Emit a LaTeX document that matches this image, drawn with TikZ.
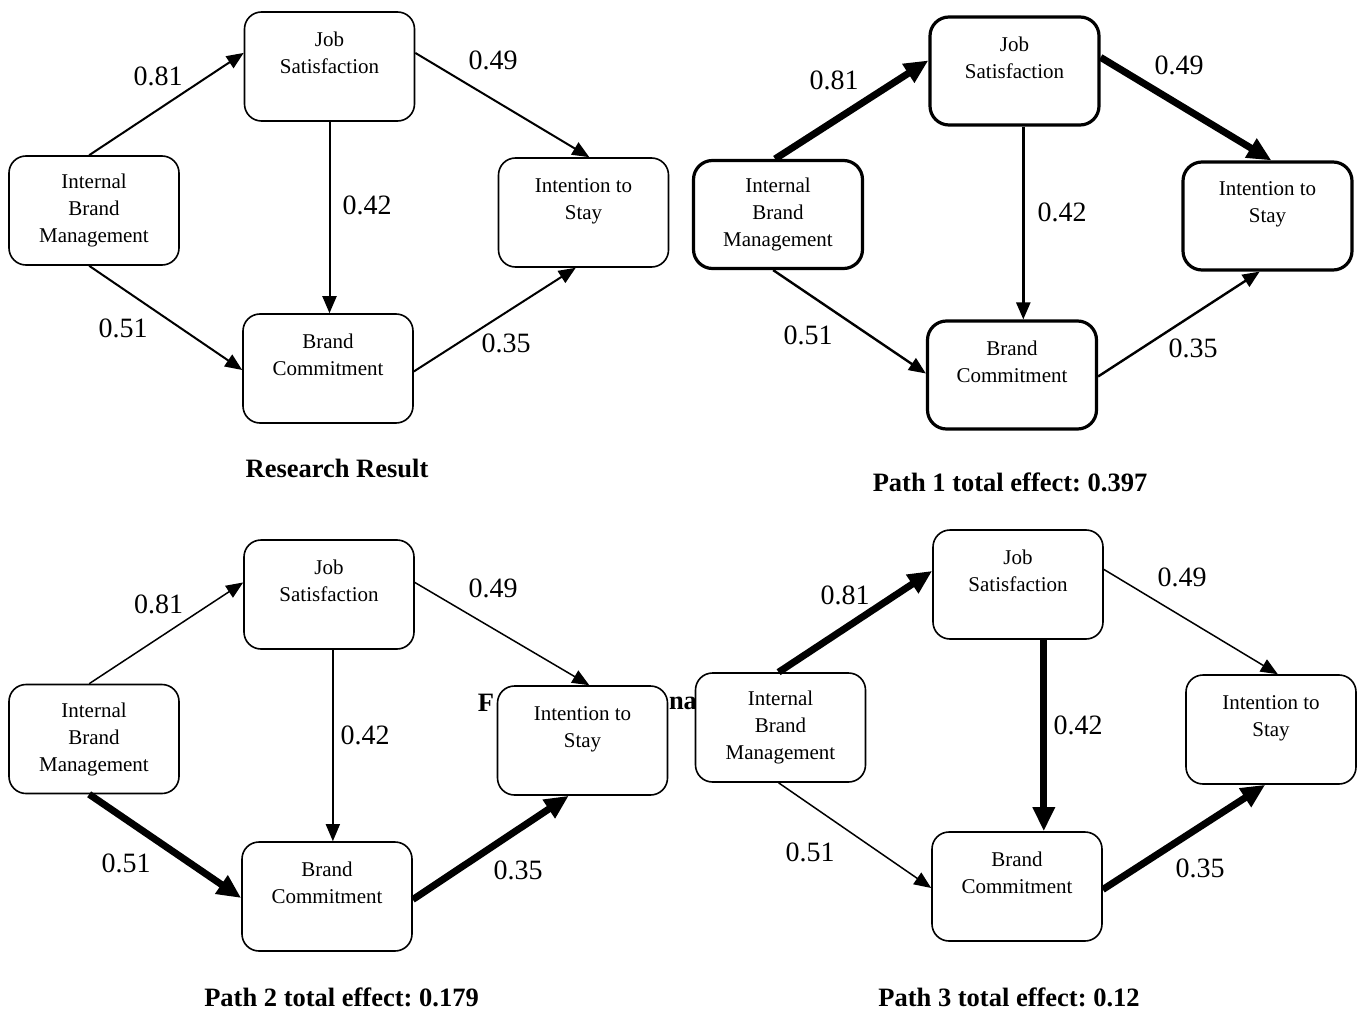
\documentclass[tikz,border=0pt]{standalone}
\usepackage{fontspec}
\setmainfont{Liberation Serif}
\usepackage{tikz}
\usetikzlibrary{arrows.meta}
\frenchspacing

\begin{document}
\begin{tikzpicture}[x=1pt,y=-1pt,
  box/.style={draw,fill=white,line width=1.6pt,rounded corners=17pt,minimum width=170pt,minimum height=109pt,align=center,font=\fontsize{21}{27}\selectfont},
  boldbox/.style={box,line width=3.2pt,rounded corners=19pt,minimum width=169pt,minimum height=108pt},
  wt/.style={font=\fontsize{28}{32}\selectfont},
  ttl/.style={font=\bfseries\fontsize{26.5}{30}\selectfont},
  arr/.style={-{Triangle[length=17pt,width=14pt]},line width=#1},
  arr/.default=2pt,
  fatarr/.style={-{Triangle[length=24pt,width=21pt]},line width=7pt}]
\useasboundingbox (0,0) rectangle (1360,1011);
\node[box] (ibm1) at (94,210.5) {Internal\\Brand\\Management};
\node[box] (js1) at (329.5,66.5) {Job\\Satisfaction\\\mbox{}};
\node[box] (its1) at (583.5,212.5) {Intention to\\Stay\\\mbox{}};
\node[box] (bc1) at (328,368.5) {Brand\\Commitment\\\mbox{}};
\draw[arr] (ibm1.95) -- (js1.171);
\draw[arr] (js1.9) -- (its1.84);
\draw[arr] (js1.south) -- (js1.south |- bc1.north);
\draw[arr] (ibm1.265) -- (bc1.181);
\draw[arr] (bc1.358) -- (its1.262);
\node[wt] (a1) at (158,76) {0.81};
\node[wt] (b1) at (493,60) {0.49};
\node[wt] (c1) at (367,205) {0.42};
\node[wt] (d1) at (123,328) {0.51};
\node[wt] (e1) at (506,343) {0.35};
\node[ttl] (t1) at (337,468) {Research Result};

\node[boldbox] (ibm2) at (778,214.5) {Internal\\Brand\\Management};
\node[boldbox] (js2) at (1014.5,71) {Job\\Satisfaction\\\mbox{}};
\node[boldbox] (its2) at (1267.5,216) {Intention to\\Stay\\\mbox{}};
\node[boldbox] (bc2) at (1012,375) {Brand\\Commitment\\\mbox{}};
\draw[fatarr] (ibm2.93) -- (js2.173);
\draw[fatarr] (js2.9) -- (its2.86);
\draw[arr=2.4pt] (js2.279) -- (js2.279 |- bc2.north);
\draw[arr=2.4pt] (ibm2.265) -- (bc2.179);
\draw[arr=2.4pt] (bc2.359) -- (its2.262);
\node[wt] (a2) at (834,80) {0.81};
\node[wt] (b2) at (1179,65) {0.49};
\node[wt] (c2) at (1062,212) {0.42};
\node[wt] (d2) at (808,335) {0.51};
\node[wt] (e2) at (1193,348) {0.35};
\node[ttl] (t2) at (1010,482) {Path 1 total effect: 0.397};

\node[ttl] (frag1) at (486,703) {F};
\node[ttl] (frag2) at (683,703) {na};

\node[box] (ibm3) at (94,739) {Internal\\Brand\\Management};
\node[box] (js3) at (329,594.5) {Job\\Satisfaction\\\mbox{}};
\node[box] (its3) at (582.5,740.5) {Intention to\\Stay\\\mbox{}};
\node[box] (bc3) at (327,896.5) {Brand\\Commitment\\\mbox{}};
\draw[arr=1.5pt] (ibm3.95) -- (js3.172);
\draw[arr=1.5pt] (js3.8) -- (its3.83);
\draw[arr=1.5pt] (js3.274) -- (js3.274 |- bc3.north);
\draw[fatarr] (ibm3.265) -- (bc3.181);
\draw[fatarr] (bc3.358) -- (its3.256);
\node[wt] (a3) at (158.5,604) {0.81};
\node[wt] (b3) at (493,588) {0.49};
\node[wt] (c3) at (365,735) {0.42};
\node[wt] (d3) at (126,863) {0.51};
\node[wt] (e3) at (518,870) {0.35};
\node[ttl] (t3) at (341.5,997) {Path 2 total effect: 0.179};

\node[box] (ibm4) at (780.5,727.5) {Internal\\Brand\\Management};
\node[box] (js4) at (1018,584.5) {Job\\Satisfaction\\\mbox{}};
\node[box] (its4) at (1271,729.5) {Intention to\\Stay\\\mbox{}};
\node[box] (bc4) at (1017,886.5) {Brand\\Commitment\\\mbox{}};
\draw[fatarr] (ibm4.92) -- (js4.171);
\draw[arr=1.5pt] (js4.10) -- (its4.83);
\draw[fatarr] (js4.295) -- (js4.295 |- bc4.north);
\draw[arr=1.5pt] (ibm4.268) -- (bc4.181);
\draw[fatarr] (bc4.358) -- (its4.264);
\node[wt] (a4) at (845,595) {0.81};
\node[wt] (b4) at (1182,577) {0.49};
\node[wt] (c4) at (1078,725) {0.42};
\node[wt] (d4) at (810,852) {0.51};
\node[wt] (e4) at (1200,868) {0.35};
\node[ttl] (t4) at (1009,997) {Path 3 total effect: 0.12};
\end{tikzpicture}
\end{document}
